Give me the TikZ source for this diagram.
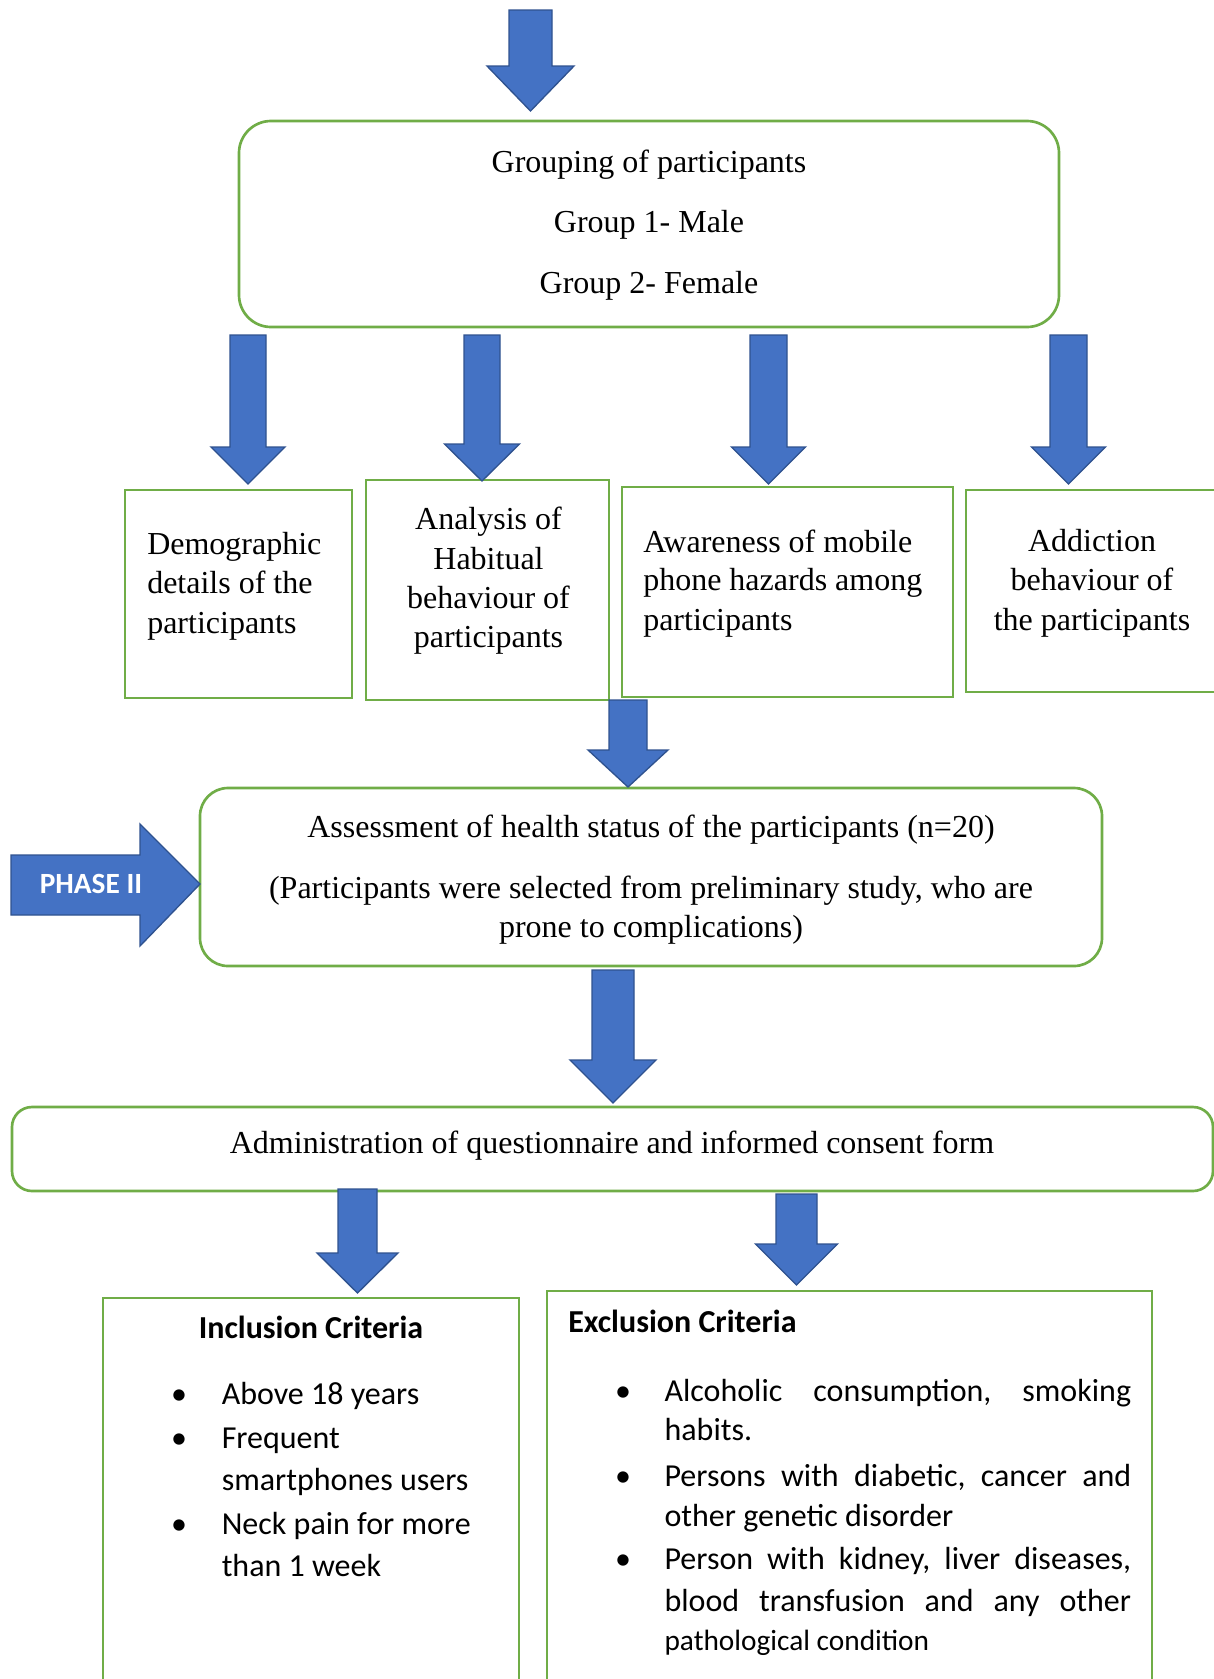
\documentclass[tikz,border=0pt]{standalone}
\usepackage{fontspec}
\setmainfont{Liberation Serif}
\newfontfamily\calib{Carlito}
\usetikzlibrary{fit}
\definecolor{arrowblue}{HTML}{4472C4}
\definecolor{arrowedge}{HTML}{2F528F}
\definecolor{boxgreen}{HTML}{70AD47}
\tikzset{
  gbox/.style={draw=boxgreen, line width=2pt, inner sep=0pt, fill=white},
  blk/.style={fill=arrowblue, draw=arrowedge, line width=1pt, line join=miter},
  txt/.style={inner sep=0pt, anchor=base, font=\fontsize{24}{30}\selectfont},
  txtl/.style={txt, anchor=base west},
  cal/.style={inner sep=0pt, anchor=base west, font=\calib\fontsize{24}{32}\selectfont},
  calb/.style={cal, font=\calib\bfseries\fontsize{24}{32}\selectfont},
  bul/.style={inner sep=0pt, anchor=base, font=\calib\fontsize{24}{32}\selectfont},
}
% cx, ytop, yhead, ytip, half shaft, half head
\newcommand\blockarrow[6]{%
  \path[blk] (#1-#5,#2) -- (#1+#5,#2) -- (#1+#5,#3) -- (#1+#6,#3) -- (#1,#4)
    -- (#1-#6,#3) -- (#1-#5,#3) -- cycle;}
\begin{document}
\begin{tikzpicture}[x=0.75pt,y=-0.75pt]
\useasboundingbox (0,0) rectangle (1214,1679);
\clip (0,0) rectangle (1214,1679);

% boxes
\node[gbox, rounded corners=24pt, fit={(239,121) (1059,327)}] (group) {};
\node[gbox, fit={(125,490) (352,698)}] (boxA) {};
\node[gbox, fit={(366,480) (609,700)}] (boxB) {};
\node[gbox, fit={(622,487) (953,697)}] (boxC) {};
\node[gbox, fit={(966,490) (1240,692)}] (boxD) {};
\node[gbox, rounded corners=21pt, fit={(200,788) (1102,966)}] (assess) {};
\node[gbox, rounded corners=15pt, fit={(12,1107) (1213,1191)}] (admin) {};
\node[gbox, fit={(103,1298) (519,1700)}] (incl) {};
\node[gbox, fit={(547,1291) (1152,1700)}] (excl) {};

% block arrows
\blockarrow{530.5}{10}{66}{111}{21.5}{43.5}
\blockarrow{248}{335}{447}{484}{18}{37}
\blockarrow{482}{335}{444}{481}{18}{37.5}
\blockarrow{768.5}{335}{447}{484}{18.5}{37}
\blockarrow{1068.5}{335}{447}{484}{18.5}{37}
\blockarrow{628}{700}{750}{787}{19}{40}
\blockarrow{613}{970}{1060}{1103}{21}{43}
\blockarrow{357.5}{1189}{1253}{1293}{19.5}{40.5}
\blockarrow{796.5}{1194}{1244}{1285}{20.5}{41}

% phase II arrow
\path[blk] (11,855) -- (140,855) -- (140,824) -- (200,884) -- (140,946)
  -- (140,915) -- (11,915) -- cycle;
\node[inner sep=0pt, anchor=base, text=white, font=\calib\bfseries\fontsize{22}{26}\selectfont] (phase) at (91,893) {PHASE II};

% grouping text
\node[txt] (g1) at (649,172) {Grouping of participants};
\node[txt] (g2) at (649,232) {Group 1- Male};
\node[txt] (g3) at (649,293) {Group 2- Female};

% box A
\node[txtl] (a1) at (147,554) {Demographic};
\node[txtl] (a2) at (147,593) {details of the};
\node[txtl] (a3) at (147,633) {participants};
% box B
\node[txt] (b1) at (488.5,529.5) {Analysis of};
\node[txt] (b2) at (488.5,569) {Habitual};
\node[txt] (b3) at (488.5,608) {behaviour of};
\node[txt] (b4) at (488.5,647.5) {participants};
% box C
\node[txtl] (c1) at (643,552) {Awareness of mobile};
\node[txtl] (c2) at (643,590) {phone hazards among};
\node[txtl] (c3) at (643,630) {participants};
% box D
\node[txt] (d1) at (1092,551) {Addiction};
\node[txt] (d2) at (1092,590) {behaviour of};
\node[txt] (d3) at (1092,630) {the participants};

% assessment
\node[txt] (s1) at (651,837.5) {Assessment of health status of the participants (n=20)};
\node[txt] (s2) at (651,898.5) {(Participants were selected from preliminary study, who are};
\node[txt] (s3) at (651,937) {prone to complications)};

% administration
\node[txt] (m1) at (612,1153) {Administration of questionnaire and informed consent form};

% inclusion
\node[calb, anchor=base] (ih) at (311,1338) {Inclusion Criteria};
\node[bul] (ib1) at (179,1404.5) {•};
\node[cal] (i1) at (221.5,1404.5) {Above 18 years};
\node[bul] (ib2) at (179,1448) {•};
\node[cal] (i2) at (221.5,1448) {Frequent};
\node[cal] (i3) at (221.5,1490) {smartphones users};
\node[bul] (ib3) at (179,1534) {•};
\node[cal] (i4) at (221.5,1534) {Neck pain for more};
\node[cal] (i5) at (221.5,1576) {than 1 week};

% exclusion
\node[calb] (eh) at (568,1332.5) {Exclusion Criteria};
\node[bul] (eb1) at (623,1401) {•};
\node[cal] (e1) at (664.3,1401) {\hbox to 350pt{Alcoholic\hfill consumption,\hfill smoking}};
\node[cal] (e2) at (664.3,1440) {habits.};
\node[bul] (eb2) at (623,1486) {•};
\node[cal] (e3) at (664.3,1486) {\hbox to 350pt{Persons\hfill with\hfill diabetic,\hfill cancer\hfill and}};
\node[cal] (e4) at (664.3,1526.5) {other genetic disorder};
\node[bul] (eb3) at (623,1569.5) {•};
\node[cal] (e5) at (664.3,1569.5) {\hbox to 350pt{Person\hfill with\hfill kidney,\hfill liver\hfill diseases,}};
\node[cal] (e6) at (664.3,1611) {\hbox to 350pt{blood\hfill transfusion\hfill and\hfill any\hfill other}};
\node[cal, font=\calib\fontsize{22}{26}\selectfont] (e7) at (664.3,1650) {pathological condition};
\end{tikzpicture}
\end{document}
